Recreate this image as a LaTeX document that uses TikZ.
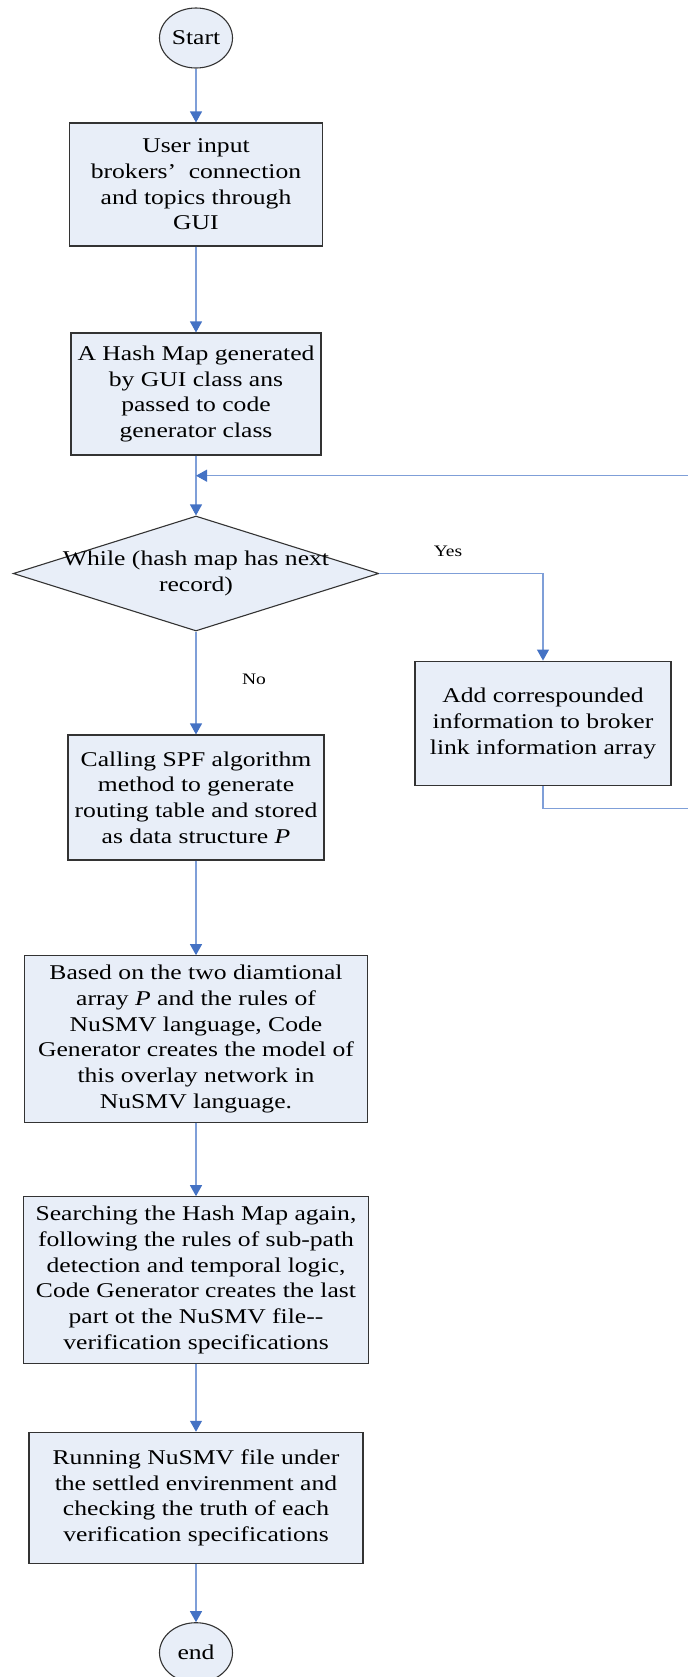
\documentclass[tikz,border=0pt]{standalone}
\usepackage{fontspec}
\setmainfont{Liberation Serif}[FakeStretch=1.22]
\usetikzlibrary{shapes.geometric}
\usetikzlibrary{positioning}
\usetikzlibrary{arrows.meta,calc}
\definecolor{boxfill}{HTML}{E8EEF8}
\definecolor{boxline}{HTML}{333333}
\definecolor{flowline}{HTML}{7F9FD8}
\definecolor{flowhead}{HTML}{4472C4}

\begin{document}
\begin{tikzpicture}[x=0.5pt,y=-0.5pt]
 \useasboundingbox (0,0) rectangle (687,1677);

\tikzstyle{box}=[draw=boxline,line width=0.55pt,fill=boxfill,rectangle,align=center,inner sep=0pt,font=\fontsize{10.5}{12.85}\selectfont]
\tikzstyle{terminal}=[box,ellipse,minimum width=36.5pt,minimum height=30pt]
\tikzstyle{flow}=[draw=flowline,line width=0.55pt,-{Triangle[length=5.5pt,width=6pt,color=flowhead]}]
\tikzstyle{choice}=[font=\fontsize{8}{9.6}\selectfont]

   %main column
   \node (start) [terminal] at (196,38) {Start};
   \node (input) [box,minimum width=126.5pt,minimum height=61.5pt] at (196,184.5) {User input\\brokers’\hspace{0.6em}connection\\and topics through\\GUI};
   \node (hashmap) [box,minimum width=125pt,minimum height=61pt] at (196,394) {A Hash Map generated\\by GUI class ans\\passed to code\\generator class};

   %loop over the records
   \node (loop) [box,diamond,minimum width=182.75pt,minimum height=57.5pt,text height=0pt,text depth=0pt] at (196,573.5) {\makebox[0pt]{\raisebox{-0.25em}{\begin{tabular}{@{}c@{}}While (hash map has next\\record)\end{tabular}}}};
   \node (addinfo) [box,minimum width=128pt,minimum height=62.3pt] at (543,723.4) {Add correspounded\\information to broker\\link information array};
   \node (yes_label) [choice] at (448,551.7) {Yes};
   \node (no_label) [choice] at (254,679) {No};

   \node (spf) [box,minimum width=128pt,minimum height=62.5pt] at (196,797.5) {Calling SPF algorithm\\method to generate\\routing table and stored\\as data structure \textit{P}};
   \node (model) [box,minimum width=171.5pt,minimum height=83.3pt] at (196,1039) {Based on the two diamtional\\array \textit{P} and the rules of\\NuSMV language, Code\\Generator creates the model of\\this overlay network in\\NuSMV language.};
   \node (spec) [box,minimum width=172.3pt,minimum height=83.3pt] at (196,1280) {Searching the Hash Map again,\\following the rules of sub-path\\detection and temporal logic,\\Code Generator creates the last\\part ot the NuSMV file-{}-\\verification specifications};
   \node (run) [box,minimum width=167pt,minimum height=65.5pt] at (196,1497.8) {Running NuSMV file under\\the settled envirenment and\\checking the truth of each\\verification specifications};
   \node (end) [terminal] at (196,1652.7) {end};

   %way back to the test
   \coordinate (merge) at (196,475.7);
   \coordinate (back_right) at (705,475.7);

    \draw[flow] (start) -- (input);
    \draw[flow] (input) -- (hashmap);
    \draw[flow] (hashmap) -- (loop);
    \draw[flow] (loop.east) -| (addinfo.north);
    \draw[flow] (loop) -- (spf);
    \draw[flow] (addinfo.south) -- ++(0,22.6) -| (back_right) -- (merge);
    \draw[flow] (spf) -- (model);
    \draw[flow] (model) -- (spec);
    \draw[flow] (spec) -- (run);
    \draw[flow] (run) -- (end);

\end{tikzpicture}
\end{document}
